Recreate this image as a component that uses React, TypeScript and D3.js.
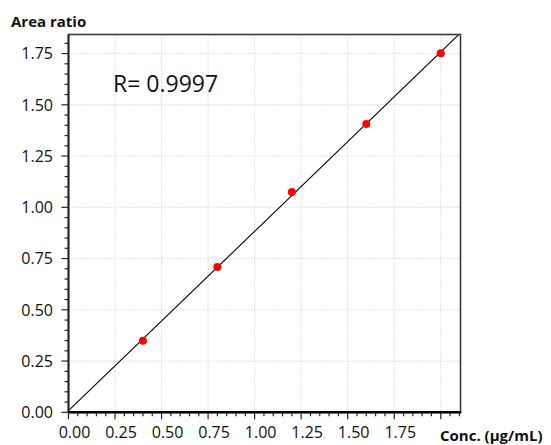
import React from 'react';
import * as d3 from 'd3';

const concentrations = [0.4, 0.8, 1.2, 1.6, 2.0];
const areaRatios = [0.349, 0.709, 1.075, 1.406, 1.751];
const xTickValues = [0, 0.25, 0.5, 0.75, 1.0, 1.25, 1.5, 1.75, 2.0];
const xTickLabels = ['0.00', '0.25', '0.50', '0.75', '1.00', '1.25', '1.50', '1.75', ''];
const yTickValues = [0, 0.25, 0.5, 0.75, 1.0, 1.25, 1.5, 1.75];
const yTickLabels = ['0.00', '0.25', '0.50', '0.75', '1.00', '1.25', '1.50', '1.75'];
const minorStep = 0.05;
const xDomain = [0, 2.106];
const yDomain = [0, 1.843];
const rLabel = 'R= 0.9997';
const xTitle = 'Conc. (µg/mL)';
const yTitle = 'Area ratio';

const W = 551;
const H = 445;
const left = 68.5;
const right = 460.5;
const top = 34.5;
const bottom = 412.3;
const font = "'Open Sans', 'DejaVu Sans', sans-serif";

export default function App() {
  const x = d3.scaleLinear().domain(xDomain).range([left, right]);
  const y = d3.scaleLinear().domain(yDomain).range([bottom, top]);

  const mx = d3.mean(concentrations) as number;
  const my = d3.mean(areaRatios) as number;
  const sxy = d3.sum(concentrations.map((c, i) => (c - mx) * (areaRatios[i] - my)));
  const sxx = d3.sum(concentrations.map((c) => (c - mx) * (c - mx)));
  const slope = sxy / sxx;
  const intercept = my - slope * mx;
  const fitPts: [number, number][] = [xDomain[0], xDomain[1] + 0.2].map((v) => [v, intercept + slope * v]);
  const lineGen = d3.line<[number, number]>().x((d) => x(d[0])).y((d) => y(d[1]));

  const xMinor = d3.range(0, xDomain[1] + 1e-9, minorStep);
  const yMinor = d3.range(0, yDomain[1] + 1e-9, minorStep);
  const isMajor = (v: number) => Math.abs(v / 0.25 - Math.round(v / 0.25)) < 1e-6;

  return (
    <svg width={W} height={H} style={{ position: 'absolute', left: 0, top: 0, display: 'block', background: '#fff' }}>
      <defs>
        <clipPath id="plotClip">
          <rect x={left} y={top} width={right - left} height={bottom - top} />
        </clipPath>
      </defs>
      {/* grid */}
      {xTickValues.filter((v) => v > 0).map((v) => (
        <line key={'gx' + v} x1={x(v)} x2={x(v)} y1={top} y2={bottom} stroke="#c4c4c4" strokeWidth={1} strokeDasharray="1,2" />
      ))}
      {yTickValues.filter((v) => v > 0).map((v) => (
        <line key={'gy' + v} x1={left} x2={right} y1={y(v)} y2={y(v)} stroke="#c4c4c4" strokeWidth={1} strokeDasharray="1,2" />
      ))}
      {/* fit line */}
      <path d={lineGen(fitPts) || ''} fill="none" stroke="#000" strokeWidth={1.1} clipPath="url(#plotClip)" />
      {/* points */}
      {concentrations.map((c, i) => (
        <circle key={'p' + i} cx={x(c)} cy={y(areaRatios[i])} r={4} fill="#ff0000" />
      ))}
      {/* frame */}
      <rect x={left} y={top} width={right - left} height={bottom - top} fill="none" stroke="#3a3a3a" strokeWidth={1.6} />
      <line x1={left - 0.5} x2={right + 0.8} y1={bottom} y2={bottom} stroke="#000" strokeWidth={2.4} />
      <line x1={left} x2={left} y1={top} y2={bottom} stroke="#222" strokeWidth={1.8} />
      {/* x ticks */}
      {xMinor.map((v) => (
        <line key={'xt' + v} x1={x(v)} x2={x(v)} y1={bottom} y2={bottom + (isMajor(v) ? 7 : 4)} stroke="#222" strokeWidth={1.2} />
      ))}
      {/* y ticks */}
      {yMinor.map((v) => (
        <line key={'yt' + v} x1={left} x2={left - (isMajor(v) ? 7 : 4)} y1={y(v)} y2={y(v)} stroke="#222" strokeWidth={1.2} />
      ))}
      {/* labels */}
      {xTickValues.map((v, i) => (
        <text key={'xl' + v} x={x(v) + 6} y={438} textAnchor="middle" fontFamily={font} fontSize={16} fill="#111">
          {xTickLabels[i]}
        </text>
      ))}
      {yTickValues.map((v, i) => (
        <text key={'yl' + v} x={53} y={y(v) + 5.8} textAnchor="end" fontFamily={font} fontSize={16} fill="#111">
          {yTickLabels[i]}
        </text>
      ))}
      <text x={11} y={26.5} fontFamily={font} fontSize={15} fontWeight="bold" fill="#111">{yTitle}</text>
      <text x={440} y={440.5} fontFamily={font} fontSize={15} fontWeight="bold" fill="#111">{xTitle}</text>
      <text x={113} y={92} fontFamily={font} fontSize={23} fill="#111">{rLabel}</text>
    </svg>
  );
}
